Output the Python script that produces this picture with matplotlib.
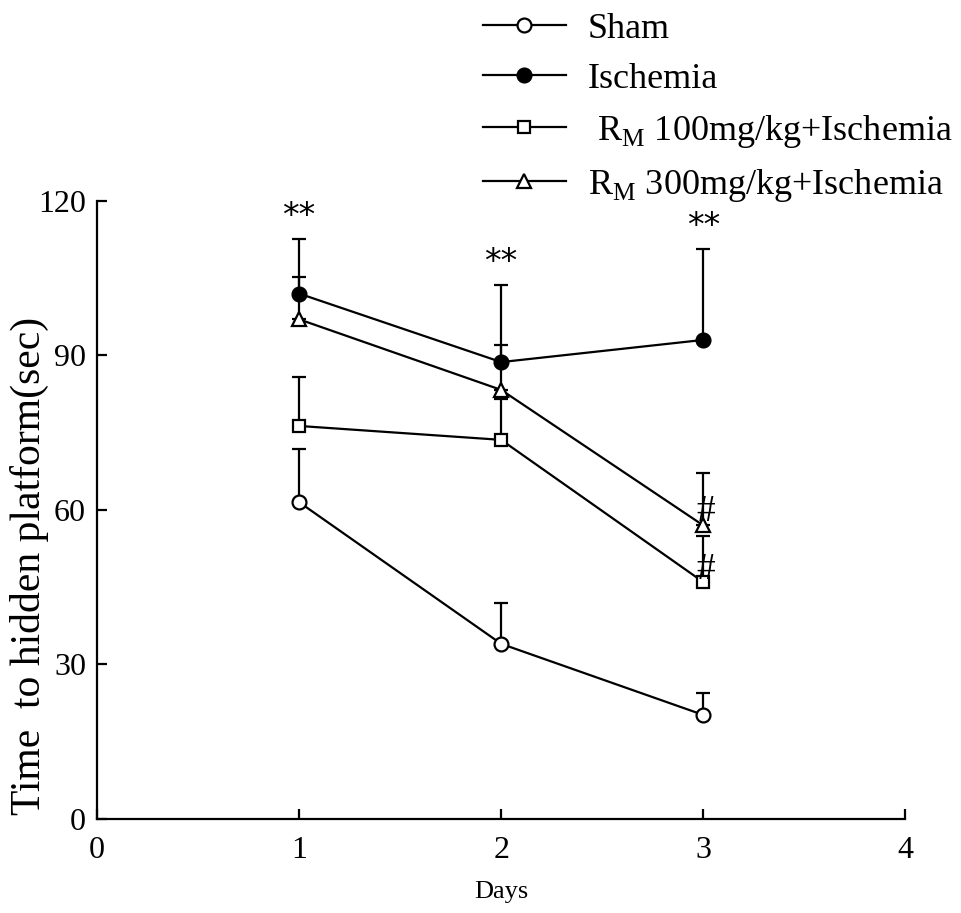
import numpy as np
import matplotlib
matplotlib.use('Agg')
import matplotlib.pyplot as plt

# -------------------------------
# Dados
# -------------------------------
dias = [1, 2, 3]

sham = [61.5, 34.0, 20.2]
sham_dp = [10.3, 8.0, 4.3]

isquemia = [102.0, 88.7, 93.0]
isquemia_dp = [10.6, 14.9, 17.7]

rm100 = [76.3, 73.6, 46.0]
rm100_dp = [9.5, 8.0, 9.0]

rm300 = [97.0, 83.3, 57.0]
rm300_dp = [8.2, 8.7, 10.2]

rotulos = ['Sham', 'Ischemia',
           r' R$_\mathregular{M}$ 100mg/kg+Ischemia',
           r'R$_\mathregular{M}$ 300mg/kg+Ischemia']

plt.rcParams['font.family'] = ['Liberation Serif', 'DejaVu Serif']
plt.rcParams['mathtext.fontset'] = 'custom'
plt.rcParams['mathtext.rm'] = 'Liberation Serif'

fig = plt.figure(figsize=(9.61, 9.13), dpi=100)
ax = fig.add_axes([0.101, 0.103, 0.841, 0.677])

series = [
    (sham, sham_dp, 'o', 'white', 10),
    (isquemia, isquemia_dp, 'o', 'black', 10),
    (rm100, rm100_dp, 's', 'white', 9),
    (rm300, rm300_dp, '^', 'white', 10),
]

handles = []
for (y, dp, marc, cor, ms), rot in zip(series, rotulos):
    ax.errorbar(dias, y, yerr=[np.zeros(3), dp], fmt='none', ecolor='black',
                elinewidth=1.6, capsize=5, capthick=1.6, zorder=2)
    h, = ax.plot(dias, y, color='black', lw=1.6, marker=marc, ms=ms,
                 mfc=cor, mec='black', mew=1.6, zorder=3, label=rot)
    handles.append(h)

# asteriscos (Ischemia vs Sham)
for x, y, dp in zip(dias, isquemia, isquemia_dp):
    ax.text(x, y + dp + 1.2, '**', family=['DejaVu Sans'], fontsize=24,
            ha='center', va='bottom')

# cerquilhas no dia 3
ax.text(3.01, rm300[2] + 0.8, '#', fontsize=27, ha='center', va='baseline')
ax.text(3.01, rm100[2] + 0.6, '#', fontsize=27, ha='center', va='baseline')

ax.set_xlim(0, 4)
ax.set_ylim(0, 120)
ax.set_xticks([0, 1, 2, 3, 4])
ax.set_yticks([0, 30, 60, 90, 120])
ax.tick_params(direction='in', length=7, width=1.6, labelsize=23, pad=8)
ax.tick_params(axis='x', pad=12)
for s in ['top', 'right']:
    ax.spines[s].set_visible(False)
for s in ['left', 'bottom']:
    ax.spines[s].set_linewidth(1.6)

ax.set_xlabel('Days', fontsize=19, labelpad=12)
ax.set_ylabel('Time  to hidden platform(sec)', fontsize=30)
ax.yaxis.set_label_coords(-0.06, 0.41)

fig.legend(handles=handles, loc='upper left', bbox_to_anchor=(0.48, 1.01),
           frameon=False, fontsize=26, handlelength=2.3, handletextpad=0.6,
           labelspacing=0.47, borderpad=0.1)

fig.savefig('out.png', dpi=100)
